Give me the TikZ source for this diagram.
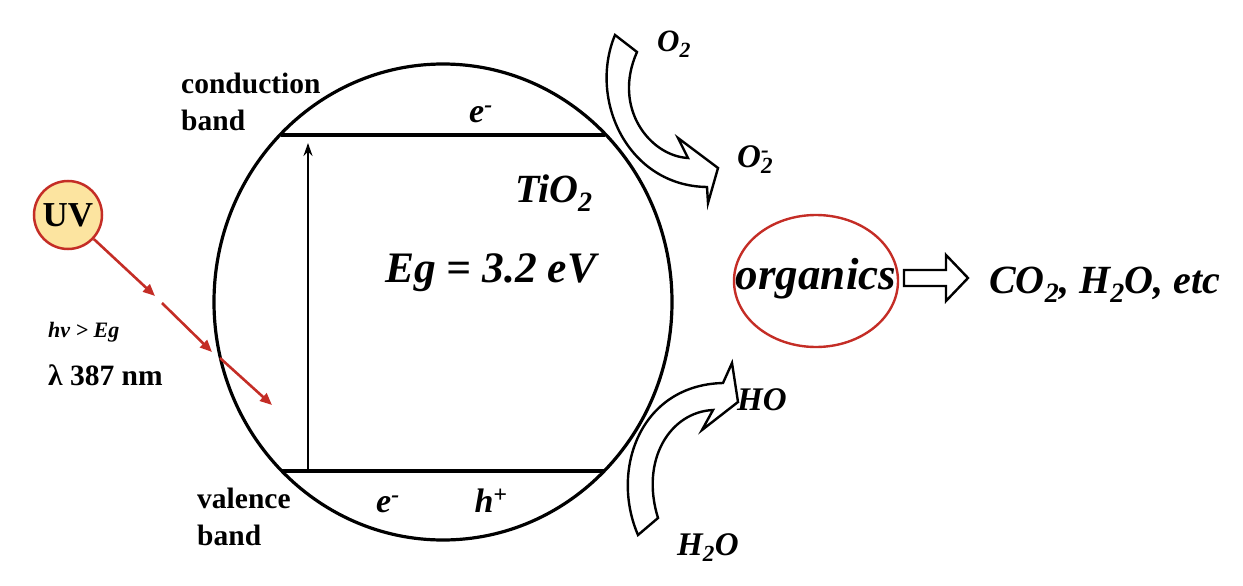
\documentclass[tikz,border=0pt]{standalone}
\usepackage{fontspec}
\setmainfont{Liberation Serif}
\usetikzlibrary{arrows.meta}
\definecolor{uvred}{RGB}{196,45,38}
\definecolor{uvfill}{RGB}{252,228,160}
\tikzset{
  bandlbl/.style={font=\bfseries\fontsize{29.5}{31}\selectfont,anchor=base west,inner sep=0pt},
  chem/.style={font=\bfseries\itshape\fontsize{40}{42}\selectfont,inner sep=0pt},
  gas/.style={font=\bfseries\itshape\fontsize{33}{35}\selectfont,anchor=base west,inner sep=0pt},
  carrier/.style={font=\bfseries\itshape\fontsize{34}{36}\selectfont,anchor=base,inner sep=0pt},
  bandline/.style={line width=3.2pt},
  redarr/.style={uvred,line width=2.6pt,-{Triangle[length=12pt,width=10pt]}},
  hollow/.style={line width=2.4pt,fill=white,line join=miter},
}
\begin{document}
\begin{tikzpicture}[x=1pt,y=-1pt]
\useasboundingbox (0,0) rectangle (1243,586);
\coordinate (C) at (443,302);
\draw[bandline] (C) ellipse [x radius=229pt, y radius=238pt];
\coordinate (CB1) at (281,135);
\coordinate (CB2) at (605,135);
\coordinate (VB1) at (282,471);
\coordinate (VB2) at (604,471);
\draw[bandline] (CB1)--(CB2);
\draw[bandline] (VB1)--(VB2);
\coordinate (G1) at (308,471);
\coordinate (G2) at (308,143);
\draw[line width=2.4pt,-{Stealth[length=13pt,width=9pt]}] (G1)--(G2);

\node[bandlbl] (cond) at (181,93) {conduction};
\node[bandlbl] (cband) at (181,130) {band};
\node[bandlbl] (val) at (197,508) {valence};
\node[bandlbl] (vband) at (197,545) {band};

\node[carrier] (ecb) at (481,122) {e\textsuperscript{-}};
\node[carrier] (evb) at (388,512) {e\textsuperscript{-}};
\node[carrier] (hvb) at (491,512) {h\textsuperscript{+}};

\node[chem,anchor=base west] (tio) at (515,202) {TiO\textsubscript{2}};
\node[chem,anchor=base west,font=\bfseries\itshape\fontsize{43.5}{45}\selectfont] (eg) at (385,282) {Eg = 3.2 eV};

\node[circle,draw=uvred,fill=uvfill,line width=2.5pt,minimum size=68pt,inner sep=0pt,
  font=\bfseries\fontsize{35}{37}\selectfont] (uv) at (68,215) {UV};
\coordinate (r1) at (155,296);
\coordinate (r2) at (162,303);
\coordinate (r3) at (212,352);
\coordinate (r4) at (220,358);
\coordinate (r5) at (272,405);
\draw[redarr] (uv)--(r1);
\draw[redarr] (r2)--(r3);
\draw[redarr] (r4)--(r5);
\node[anchor=base west,inner sep=0pt,font=\bfseries\itshape\fontsize{22}{24}\selectfont] (hv) at (48,337) {hv > Eg};
\node[bandlbl] (lam) at (48,385) {λ 387 nm};

\draw[hollow] (615,35) .. controls (588,100) and (628,186) .. (707,187) -- (708,203) -- (718,168)
  -- (678,138) -- (688,158) .. controls (650,156) and (612,108) .. (637,52) -- cycle;
\draw[hollow] (638,535) .. controls (610,470) and (640,385) .. (723,383) -- (732,363) -- (738,402)
  -- (702,430) -- (713,410) .. controls (670,412) and (640,460) .. (658,518) -- cycle;
\node[gas,font=\bfseries\itshape\fontsize{31}{33}\selectfont] (o2) at (657,52) {O\textsubscript{2}};
\node[gas] (o2m) at (737,167) {O\rlap{\textsubscript{2}}\textsuperscript{-}};
\node[gas] (ho) at (737,410) {HO};
\node[gas] (h2o) at (677,555) {H\textsubscript{2}O};

\node[chem,font=\bfseries\itshape\fontsize{45}{47}\selectfont] (org) at (816,279) {organics};
\draw[uvred,line width=2.4pt] (816,281) ellipse [x radius=82pt, y radius=66pt];
\draw[hollow] (904,270) -- (946,270) -- (946,255) -- (968,278) -- (946,301) -- (946,286) -- (904,286) -- cycle;
\node[chem,anchor=base west] (prod) at (989,293) {CO\textsubscript{2}, H\textsubscript{2}O, etc};
\end{tikzpicture}
\end{document}
